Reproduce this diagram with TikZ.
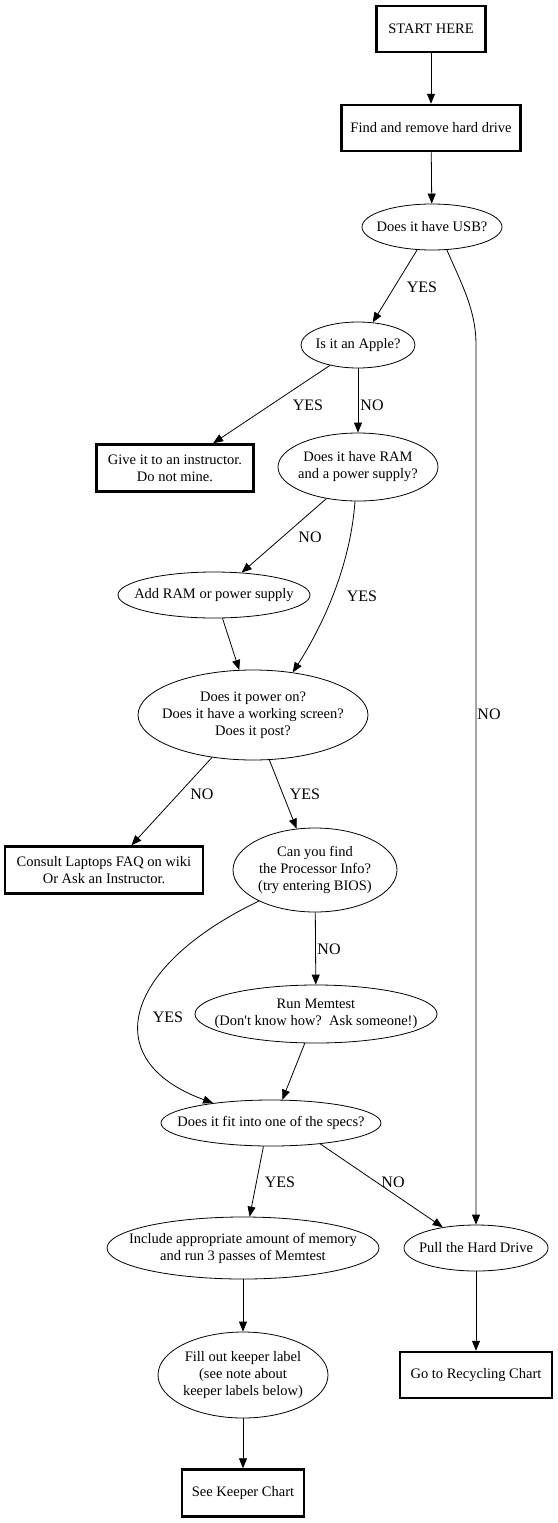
\documentclass[tikz,border=0pt]{standalone}
\usepackage{fontspec}
\setmainfont{Liberation Serif}
\usetikzlibrary{shapes.geometric,arrows.meta}
\tikzset{
  txt/.style={font=\fontsize{14.5}{17}\selectfont, align=center, inner sep=0pt},
  boxnode/.style={draw, rectangle, line width=2.5pt, txt},
  ell/.style={draw, ellipse, line width=0.8pt, inner sep=0pt},
  arr/.style={line width=0.8pt, -{Triangle[length=10pt,width=8pt]}},
  lbl/.style={font=\fontsize{16}{19}\selectfont, inner sep=0pt},
}
\begin{document}
\begin{tikzpicture}[x=1pt,y=-1pt]
\useasboundingbox (0,0) rectangle (557,1523);
% nodes
\node[boxnode, minimum width=109, minimum height=46] (start) at (431,29) {START HERE};
\node[boxnode, minimum width=179, minimum height=46] (find) at (431,128) {Find and remove hard drive};
\node[ell, minimum width=140, minimum height=46, label={[txt]center:Does it have USB?}] (usb) at (432,227) {};
\node[ell, minimum width=114, minimum height=46, label={[txt]center:Is it an Apple?}] (apple) at (358,345) {};
\node[boxnode, minimum width=157, minimum height=47] (give) at (175,468) {Give it to an instructor.\\Do not mine.};
\node[ell, minimum width=160, minimum height=68, label={[txt]center:Does it have RAM\\and a power supply?}] (ram) at (358,467) {};
\node[ell, minimum width=192, minimum height=46, label={[txt]center:Add RAM or power supply}] (add) at (214,595) {};
\node[ell, minimum width=230, minimum height=90, label={[txt]center:Does it power on?\\Does it have a working screen?\\Does it post?}] (power) at (253,715) {};
\node[boxnode, minimum width=198, minimum height=47] (consult) at (104,870) {Consult Laptops FAQ on wiki\\Or Ask an Instructor.};
\node[ell, minimum width=164, minimum height=84, label={[txt]center:Can you find\\the Processor Info?\\(try entering BIOS)}] (cpu) at (315,870) {};
\node[ell, minimum width=242, minimum height=58, label={[txt]center:Run Memtest\\(Don\textquotesingle t know how?\ \ Ask someone!)}] (memtest) at (316,1014) {};
\node[ell, minimum width=220, minimum height=46, label={[txt]center:Does it fit into one of the specs?}] (specs) at (271,1123) {};
\node[ell, minimum width=272, minimum height=62, label={[txt]center:Include appropriate amount of memory\\and run 3 passes of Memtest}] (include) at (243,1248) {};
\node[ell, minimum width=144, minimum height=46, label={[txt]center:Pull the Hard Drive}] (pull) at (476,1248) {};
\node[ell, minimum width=170, minimum height=86, label={[txt]center:Fill out keeper label\\(see note about\\keeper labels below)}] (fill) at (243,1375) {};
\node[boxnode, minimum width=152, minimum height=46] (recycle) at (476,1375) {Go to Recycling Chart};
\node[boxnode, minimum width=122, minimum height=47] (keeper) at (243,1493) {See Keeper Chart};
\coordinate (usbbend) at (476,345);
% edges
\draw[arr] (start) -- (find);
\draw[arr] (find) -- (usb);
\draw[arr] (usb.237) -- (apple.57);
\draw[arr] (usb.303) .. controls (462,285) and (476,310) .. (usbbend) -- (pull.north);
\draw[arr] (apple.216) -- (give.33);
\draw[arr] (apple) -- (ram);
\draw[arr] (ram.225) -- (add.39);
\draw[arr] (ram.265) .. controls (350,570) and (320,630) .. (power.47);
\draw[arr] (add.290) -- (power.107);
\draw[arr] (power.226) -- (consult.42);
\draw[arr] (power.290) -- (cpu.114);
\draw[arr] (cpu) -- (memtest);
\draw[arr] (cpu.209) .. controls (125,965) and (95,1060) .. (specs.161);
\draw[arr] (memtest.249) -- (specs.64);
\draw[arr] (specs.252) -- (include.78);
\draw[arr] (specs.337) -- (pull.148);
\draw[arr] (include) -- (fill);
\draw[arr] (fill) -- (keeper);
\draw[arr] (pull) -- (recycle);
% edge labels
\node[lbl] (l1) at (422,287) {YES};
\node[lbl] (l2) at (489,714) {NO};
\node[lbl] (l3) at (308,405) {YES};
\node[lbl] (l4) at (372,405) {NO};
\node[lbl] (l5) at (310,537) {NO};
\node[lbl] (l6) at (362,596) {YES};
\node[lbl] (l7) at (202,794) {NO};
\node[lbl] (l8) at (305,794) {YES};
\node[lbl] (l9) at (329,949) {NO};
\node[lbl] (l10) at (168,1017) {YES};
\node[lbl] (l11) at (280,1182) {YES};
\node[lbl] (l12) at (393,1182) {NO};
\end{tikzpicture}
\end{document}
